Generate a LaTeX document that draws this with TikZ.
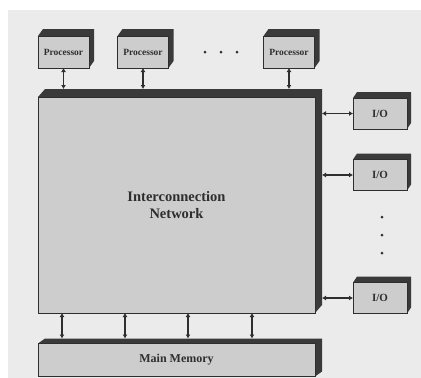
\documentclass[tikz,border=0pt]{standalone}
\usepackage{fontspec}
\setmainfont{Liberation Serif}
\usetikzlibrary{calc,arrows.meta}
\definecolor{paper}{HTML}{EBEBEB}
\definecolor{face}{HTML}{CDCDCD}
\definecolor{side}{HTML}{3A3A3A}
\definecolor{ink}{HTML}{2E2E2E}
\tikzset{
  box/.style={draw=ink, line width=0.9pt, fill=face, inner sep=0pt, outer sep=0pt, text=ink},
  biarrow/.style={draw=ink, line width=1.8pt, {Latex[length=4pt,width=5pt]}-{Latex[length=4pt,width=5pt]}},
  dotc/.style={fill=ink, circle, inner sep=0pt, minimum size=3pt}
}
\newcommand{\depthof}[3]{%
  \fill[side] (#1.north west) -- ($(#1.north west)+(#2,-#3)$) -- ($(#1.north east)+(#2,-#3)$)
     -- ($(#1.south east)+(#2,-#3)$) -- (#1.south east) -- (#1.north east) -- cycle;
  \draw[ink, line width=0.9pt] (#1.north west) rectangle (#1.south east);}
\begin{document}
\begin{tikzpicture}[x=1pt,y=-1pt]
\useasboundingbox (0,0) rectangle (421,378);
\fill[white] (0,0) rectangle (421,378);
\fill[paper] (8,10) rectangle (421,378);
% processors
\node[box, minimum width=51pt, minimum height=32pt, font=\fontsize{9.5}{10}\bfseries] (p1) at (63.5,52) {Processor};
\node[box, minimum width=51pt, minimum height=32pt, font=\fontsize{9.5}{10}\bfseries] (p2) at (143,52) {Processor};
\node[box, minimum width=51pt, minimum height=32pt, font=\fontsize{9.5}{10}\bfseries] (p3) at (289,52) {Processor};
\node[dotc] (d1) at (205,52) {};
\node[dotc] (d2) at (221,52) {};
\node[dotc] (d3) at (237,52) {};
% network
\node[box, minimum width=277pt, minimum height=216pt, align=center, font=\fontsize{14.5}{17}\bfseries] (net) at (176.5,205) {Interconnection\\Network};
% I/O
\node[box, minimum width=54pt, minimum height=31pt, font=\fontsize{11}{12}\bfseries] (io1) at (380,113.5) {I/O};
\node[box, minimum width=54pt, minimum height=31pt, font=\fontsize{11}{12}\bfseries] (io2) at (380,175) {I/O};
\node[box, minimum width=54pt, minimum height=31pt, font=\fontsize{11}{12}\bfseries] (io3) at (380,298) {I/O};
\node[dotc] (e1) at (382,217) {};
\node[dotc] (e2) at (382,235) {};
\node[dotc] (e3) at (382,253) {};
% memory
\node[box, minimum width=277pt, minimum height=33pt, font=\fontsize{12}{13}\bfseries] (mem) at (176.5,360) {Main Memory};
% depth faces
\depthof{p1}{5}{7}
\depthof{p2}{5}{7}
\depthof{p3}{5}{7}
\depthof{net}{7}{8}
\depthof{io1}{4}{6}
\depthof{io2}{4}{6}
\depthof{io3}{4}{6}
\depthof{mem}{7}{5}
% processor links
\foreach \p in {p1,p2,p3}
  \draw[biarrow] (\p.south) -- ($(\p.south |- net.north)+(0,-8)$);
% io links
\foreach \i in {io1,io2,io3}
  \draw[biarrow] ($(\i.west -| net.east)+(7,0)$) -- (\i.west);
% memory links
\foreach \x in {24,87,150,214}
  \draw[biarrow] ($(net.south west)+(\x,0)$) -- ($(mem.north west)+(\x,-5)$);
\end{tikzpicture}
\end{document}
